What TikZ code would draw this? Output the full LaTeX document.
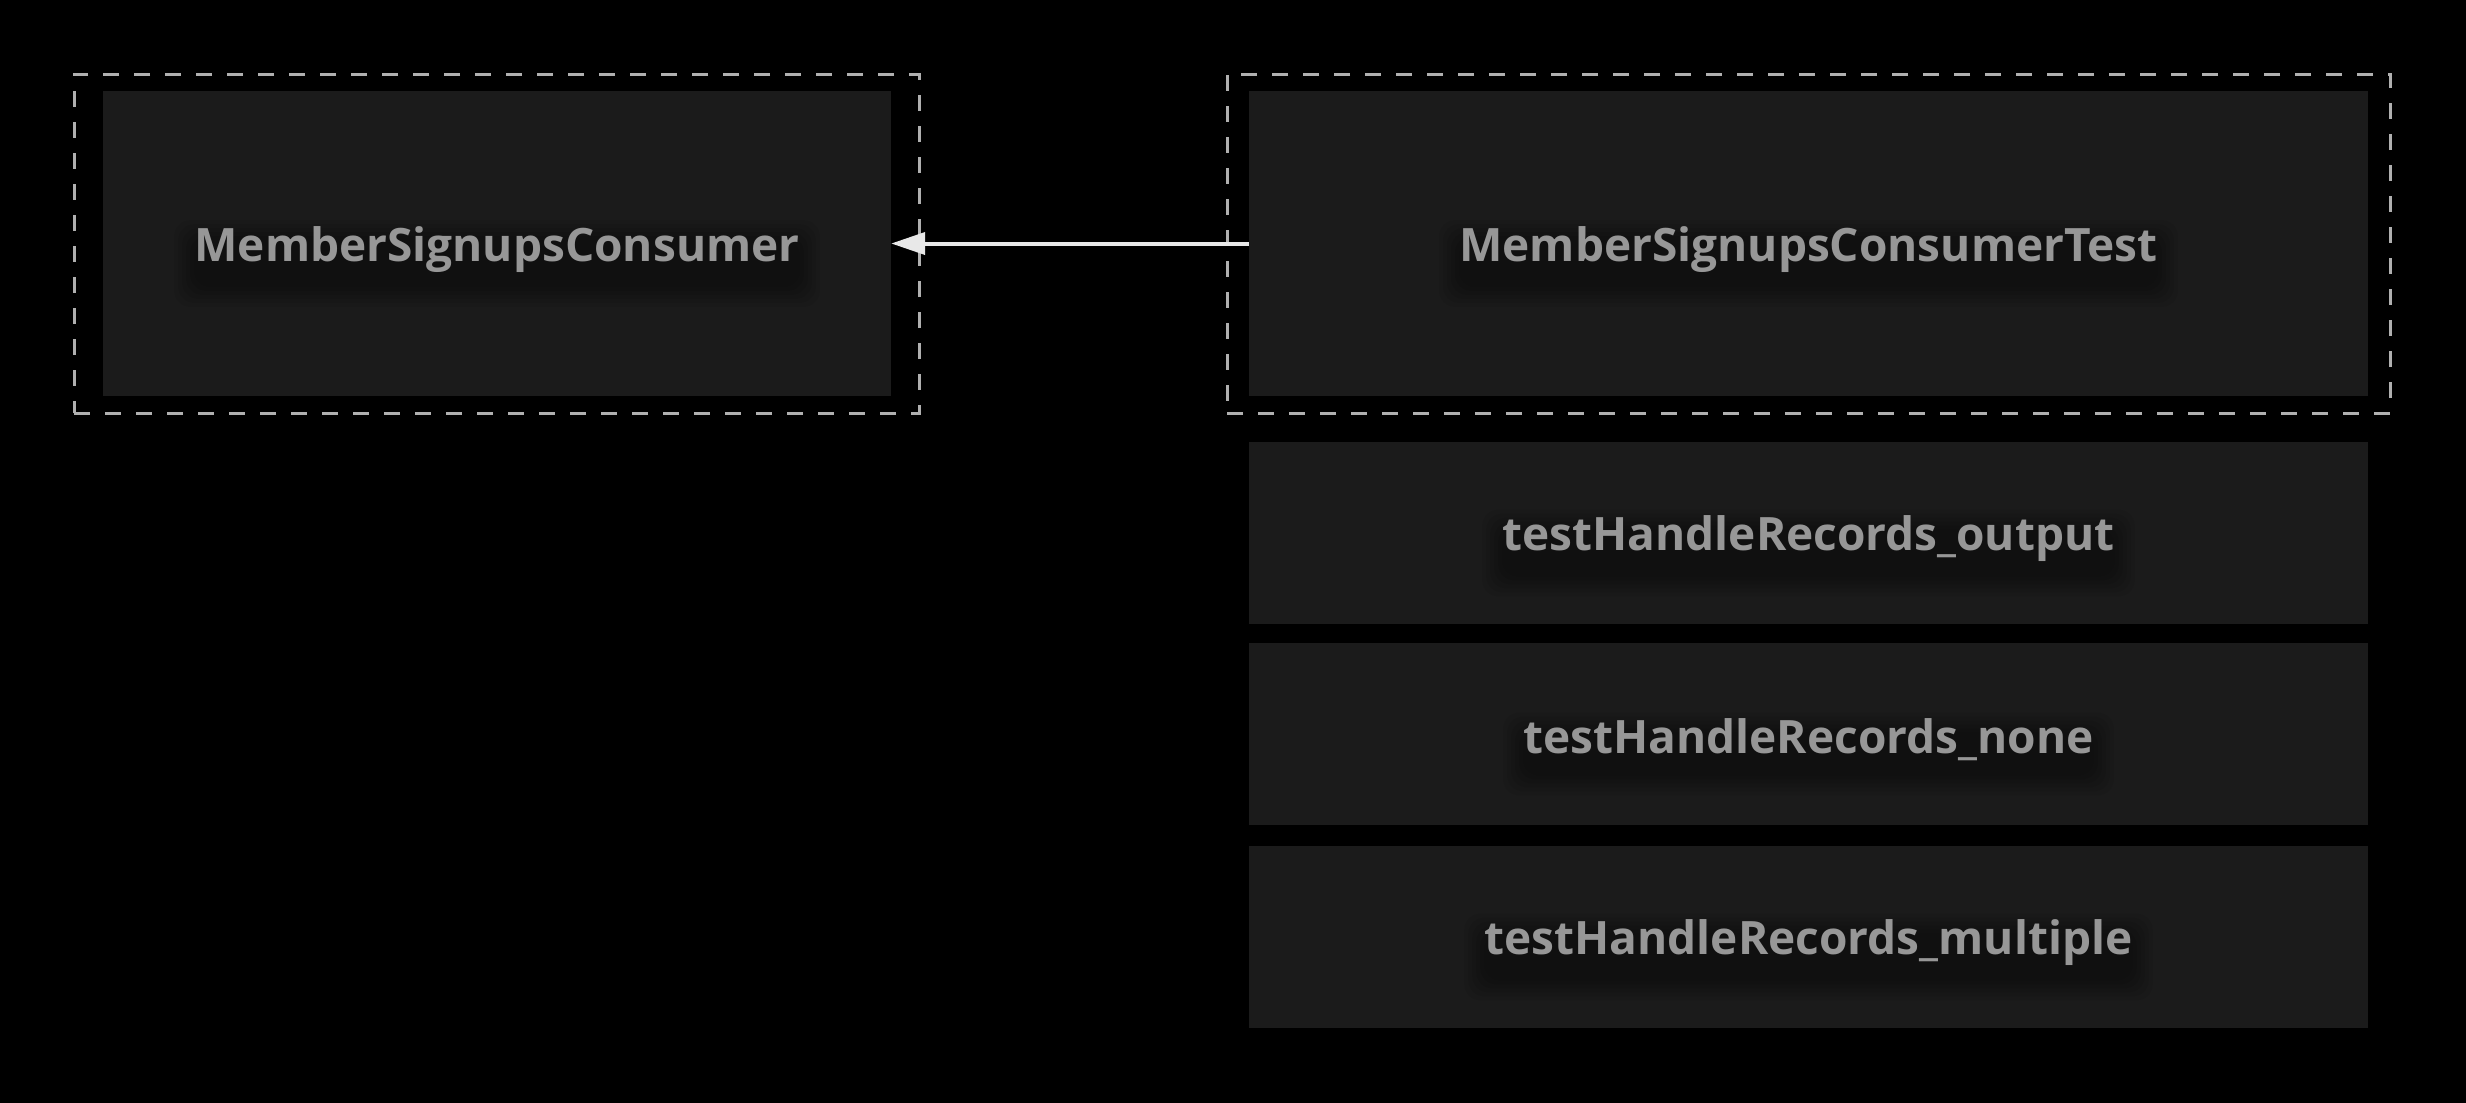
\documentclass[tikz,border=0pt]{standalone}
\usepackage{fontspec}
\setmainfont{Open Sans}
\usetikzlibrary{arrows.meta}
\definecolor{bg}{HTML}{000000}
\definecolor{boxfill}{HTML}{1B1B1B}
\definecolor{dashcol}{HTML}{B0B0B0}
\definecolor{txtcol}{HTML}{979797}
\definecolor{arrowcol}{HTML}{E8E8E8}
\tikzset{
  card/.style={fill=boxfill, draw=none, inner sep=0pt},
  grp/.style={draw=dashcol, line width=3pt, dash pattern=on 16pt off 15pt, fill=none, inner sep=0pt},
  lbl/.style={text=txtcol, font=\bfseries\fontsize{46}{50}\selectfont, inner sep=0pt},
  link/.style={draw=arrowcol, line width=4pt, -{Triangle[length=34pt,width=22pt]}},
  halo/.style={fill=black, opacity=0.06, draw=none, rounded corners=16pt}
}
\newcommand{\halofor}[1]{%
  \foreach \g in {0,4,8,12,16,20}{
    \fill[halo] ([shift={(-\g,14-\g)}]#1.north west) rectangle ([shift={(\g,14+\g)}]#1.south east);
  }}
\begin{document}
\begin{tikzpicture}[x=1pt,y=-1pt]
\fill[bg] (0,0) rectangle (2466,1103);
\useasboundingbox (0,0) rectangle (2466,1103);
% groups
\node[grp, minimum width=845pt, minimum height=339pt] (g1) at (496.5,243.5) {};
\node[grp, minimum width=1163pt, minimum height=339pt] (g2) at (1808.5,243.5) {};
% boxes
\node[card, minimum width=788pt, minimum height=305pt] (c1) at (497,243.5) {};
\node[card, minimum width=1119pt, minimum height=305pt] (c2) at (1808.5,243.5) {};
\node[card, minimum width=1119pt, minimum height=182pt] (m1) at (1808.5,533) {};
\node[card, minimum width=1119pt, minimum height=182pt] (m2) at (1808.5,734) {};
\node[card, minimum width=1119pt, minimum height=182pt] (m3) at (1808.5,937) {};
% label positions (invisible boxes used for the halo)
\node[lbl, text opacity=0] (p1) at ([yshift=-6pt]c1.center) {\phantom{MemberSignupsConsumer}};
\node[lbl, text opacity=0] (p2) at ([yshift=-6pt]c2.center) {\phantom{MemberSignupsConsumerTest}};
\node[lbl, text opacity=0] (p3) at ([yshift=-6pt]m1.center) {\phantom{testHandleRecords\_output}};
\node[lbl, text opacity=0] (p4) at ([yshift=-6pt]m2.center) {\phantom{testHandleRecords\_none}};
\node[lbl, text opacity=0] (p5) at ([yshift=-6pt]m3.center) {\phantom{testHandleRecords\_multiple}};
\halofor{p1}\halofor{p2}\halofor{p3}\halofor{p4}\halofor{p5}
% labels
\node[lbl] (t1) at (p1.center) {MemberSignupsConsumer};
\node[lbl] (t2) at (p2.center) {MemberSignupsConsumerTest};
\node[lbl] (t3) at (p3.center) {testHandleRecords\_output};
\node[lbl] (t4) at (p4.center) {testHandleRecords\_none};
\node[lbl] (t5) at (p5.center) {testHandleRecords\_multiple};
% connector
\draw[link] (c2.west) -- (c1.east);
\end{tikzpicture}
\end{document}
